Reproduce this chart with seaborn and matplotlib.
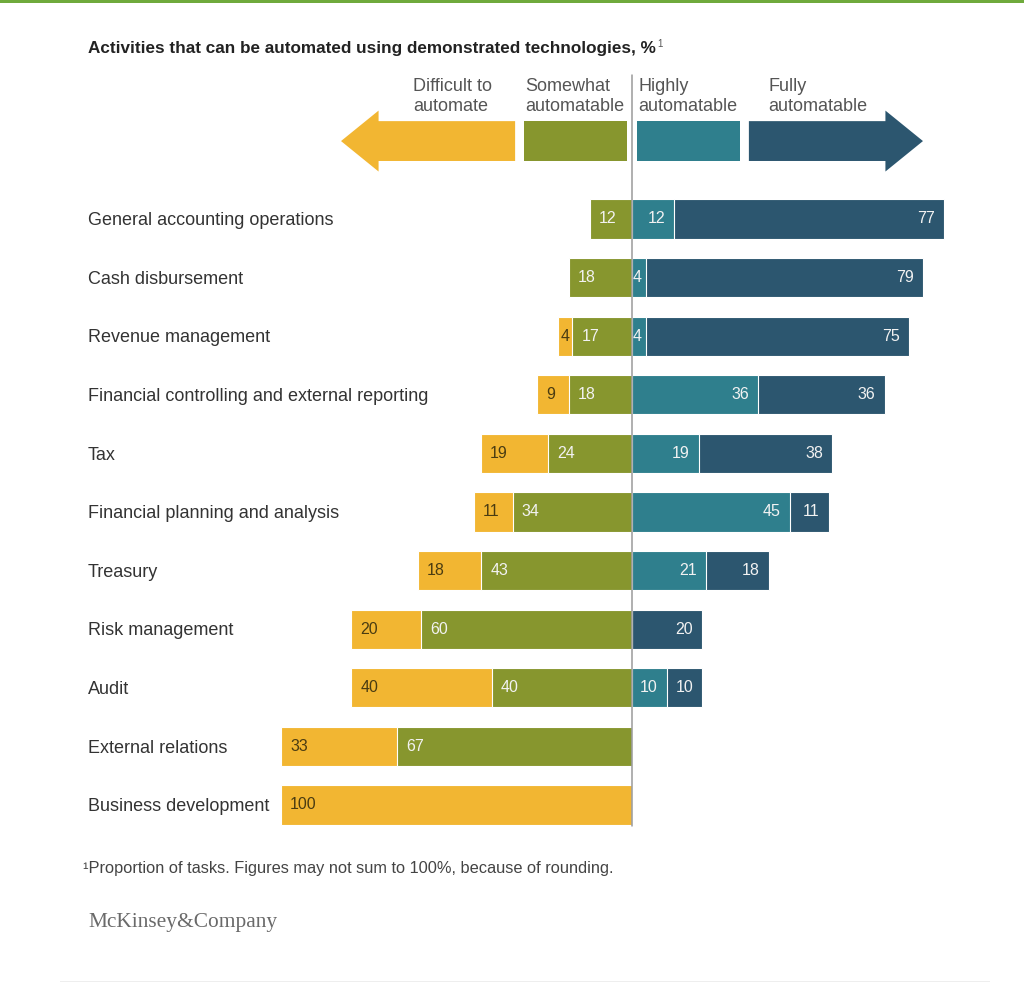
import numpy as np
import pandas as pd
import matplotlib
matplotlib.use("Agg")
import matplotlib.pyplot as plt
import matplotlib.transforms as mtransforms
from matplotlib.patches import Polygon, Rectangle
import seaborn as sns

# --- Data (share of tasks, %) ---
activities = [
    "General accounting operations",
    "Cash disbursement",
    "Revenue management",
    "Financial controlling and external reporting",
    "Tax",
    "Financial planning and analysis",
    "Treasury",
    "Risk management",
    "Audit",
    "External relations",
    "Business development",
]
difficult = [0, 0, 4, 9, 19, 11, 18, 20, 40, 33, 100]
somewhat = [12, 18, 17, 18, 24, 34, 43, 60, 40, 67, 0]
highly = [12, 4, 4, 36, 19, 45, 21, 0, 10, 0, 0]
fully = [77, 79, 75, 36, 38, 11, 18, 20, 10, 0, 0]

header_labels = ["Difficult to\nautomate", "Somewhat\nautomatable",
                 "Highly\nautomatable", "Fully\nautomatable"]

YELLOW = "#F2B632"
GREEN = "#87962E"
TEAL = "#2F7F8D"
NAVY = "#2C566F"

df = pd.DataFrame({"activity": activities, "difficult": difficult,
                   "somewhat": somewhat, "highly": highly, "fully": fully})
df["left_total"] = -(df["difficult"] + df["somewhat"])
df["left_green"] = -df["somewhat"]
df["right_total"] = df["highly"] + df["fully"]

sns.set_style("white")
plt.rcParams["font.family"] = ["Liberation Sans", "DejaVu Sans"]

fig = plt.figure(figsize=(10.24, 9.9), dpi=100)
ax = fig.add_axes([281 / 1024, 1 - 834.3 / 990, 190 * 3.51 / 1024, 644.6 / 990])

# --- Stacked diverging bars (outer layer first, inner layer on top) ---
bw = 0.67
kw = dict(orient="h", width=bw, edgecolor="white", linewidth=0.8, ax=ax)
sns.barplot(data=df, y="activity", x="left_total", color=YELLOW, saturation=1, **kw)
sns.barplot(data=df, y="activity", x="left_green", color=GREEN, saturation=1, **kw)
sns.barplot(data=df, y="activity", x="right_total", color=NAVY, saturation=1, **kw)
sns.barplot(data=df, y="activity", x="highly", color=TEAL, saturation=1, **kw)

ax.set_xlim(-100, 90)
ax.set_ylim(10.5, -0.5)
ax.set_xlabel("")
ax.set_ylabel("")
ax.set_xticks([])
ax.set_yticks([])
sns.despine(ax=ax, left=True, bottom=True)

# center line
ax.plot([0, 0], [-2.45, 10.35], color="#9a9a9a", lw=1.1, clip_on=False, zorder=5)

# --- Value labels ---
dark_txt = "#4a3c12"
light_txt = "#f2f2f2"
fs = 11.5
for i, row in df.iterrows():
    d, s, h, f = row["difficult"], row["somewhat"], row["highly"], row["fully"]
    if d > 0:
        pad = 2.6 if d >= 8 else 0.8
        ax.text(-(d + s) + pad, i, str(d), ha="left", va="center",
                color=dark_txt, fontsize=fs)
    if s > 0:
        ax.text(-s + 2.6, i, str(s), ha="left", va="center",
                color=light_txt, fontsize=fs)
    if h > 0:
        if h >= 8:
            ax.text(h - 2.6, i, str(h), ha="right", va="center",
                    color=light_txt, fontsize=fs)
        else:
            ax.text(0.3, i, str(h), ha="left", va="center",
                    color=light_txt, fontsize=fs)
    if f > 0:
        ax.text(h + f - 2.6, i, str(f), ha="right", va="center",
                color=light_txt, fontsize=fs)

# --- Category labels ---
trans = mtransforms.blended_transform_factory(fig.transFigure, ax.transData)
for i, name in enumerate(activities):
    ax.text(88 / 1024, i + 0.03, name, transform=trans, ha="left", va="center",
            fontsize=13, color="#333333")

# --- Header arrows / legend ---
yc = -1.33
bh = 0.34
hh = 0.52
ax.add_patch(Polygon([[-82.9, yc], [-72.2, yc - hh], [-72.2, yc - bh], [-33.3, yc - bh],
                      [-33.3, yc + bh], [-72.2, yc + bh], [-72.2, yc + hh]],
                     closed=True, facecolor=YELLOW, edgecolor="none", clip_on=False))
ax.add_patch(Rectangle((-30.8, yc - bh), 29.4, 2 * bh, facecolor=GREEN,
                       edgecolor="none", clip_on=False))
ax.add_patch(Rectangle((1.4, yc - bh), 29.4, 2 * bh, facecolor=TEAL,
                       edgecolor="none", clip_on=False))
ax.add_patch(Polygon([[82.9, yc], [72.2, yc - hh], [72.2, yc - bh], [33.3, yc - bh],
                      [33.3, yc + bh], [72.2, yc + bh], [72.2, yc + hh]],
                     closed=True, facecolor=NAVY, edgecolor="none", clip_on=False))

header_x = [413, 525, 638, 768]
for xp, lab in zip(header_x, header_labels):
    fig.text(xp / 1024, 1 - 78 / 990, lab, ha="left", va="top", fontsize=13,
             color="#555555", linespacing=1.2)

# --- Title, footnote, source ---
fig.text(88 / 1024, 1 - 49 / 990,
         "Activities that can be automated using demonstrated technologies, %",
         ha="left", va="center", fontsize=12.3, fontweight="bold", color="#222222")
fig.text(657 / 1024, 1 - 44 / 990, "1", ha="left", va="center", fontsize=7,
         color="#555555")
fig.text(83 / 1024, 1 - 869 / 990,
         "\u00b9Proportion of tasks. Figures may not sum to 100%, because of rounding.",
         ha="left", va="center", fontsize=11.8, color="#444444")
fig.text(88 / 1024, 1 - 922 / 990, "McKinsey&Company", ha="left", va="center",
         fontsize=15.4, color="#6a6a6a", family=["Liberation Serif", "DejaVu Serif"])

# top green rule and faint bottom rule
fig.add_artist(Rectangle((0, 1 - 3 / 990), 1, 3 / 990, transform=fig.transFigure,
                         facecolor="#6faa3c", edgecolor="none"))
fig.add_artist(Rectangle((60 / 1024, 1 - 982 / 990), 930 / 1024, 1.5 / 990,
                         transform=fig.transFigure, facecolor="#eeeeee",
                         edgecolor="none"))

fig.savefig("out.png", dpi=100, facecolor="white")
